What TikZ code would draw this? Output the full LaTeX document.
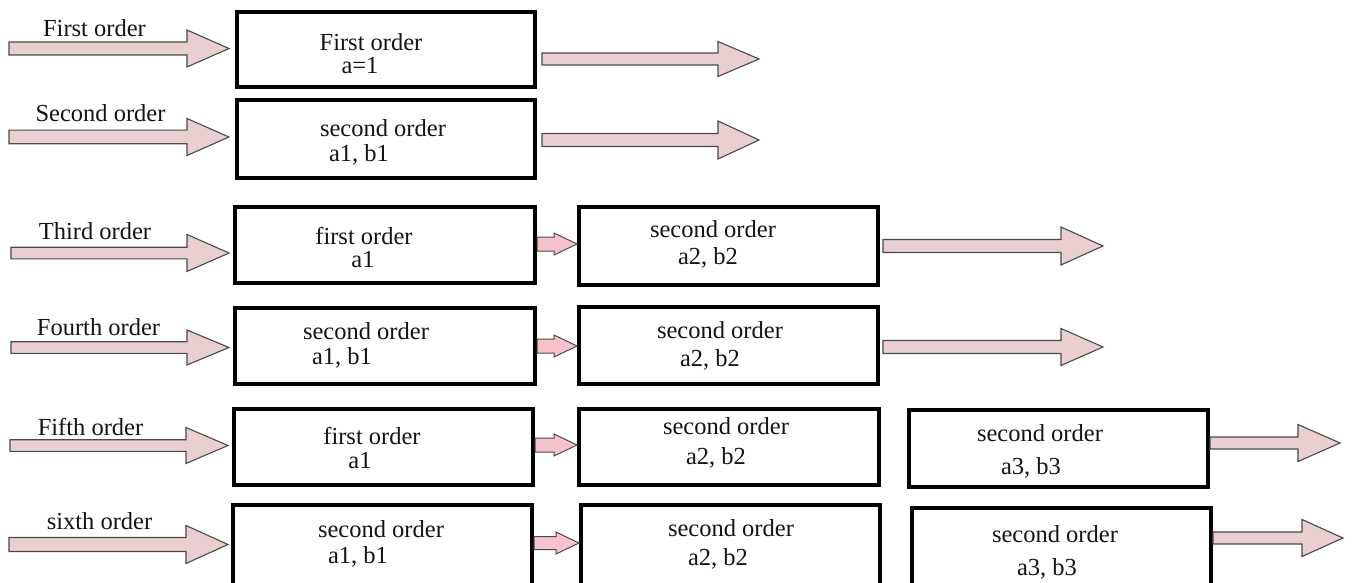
\documentclass[tikz,border=0pt]{standalone}
\usepackage{fontspec}
\setmainfont{Liberation Serif}
\usetikzlibrary{calc}
\definecolor{bigfill}{HTML}{E9CFCF}
\definecolor{smallfill}{HTML}{F6C2CB}
\definecolor{arrline}{HTML}{4A4A4A}
\definecolor{txtcol}{HTML}{141414}
\tikzset{
  box/.style={draw=black, line width=3.8pt, inner sep=0pt, fill=white},
  txt/.style={text=txtcol, inner sep=0pt, anchor=base, yshift=-2pt, font=\fontsize{24.5}{28}\selectfont},
  bigarrow/.style={draw=arrline, line width=1.1pt, fill=bigfill, line join=miter},
  smallarrow/.style={draw=arrline, line width=1pt, fill=smallfill, line join=miter}
}
% box by outer extents: name, x1, y1, x2, y2
\newcommand\bx[5]{\node[box, minimum width={(#4-#2-3.8)*1pt}, minimum height={(#5-#3-3.8)*1pt}] (#1) at ({(#2+#4)/2},{(#3+#5)/2}) {};}
% block arrow: style, from, to, shaft half, head half, head length (y of from)
\newcommand\barrow[6]{\draw[#1] let \p1=(#2), \p2=(#3) in
  (\x1,\y1+#4pt) -- (\x2-#6pt,\y1+#4pt) -- (\x2-#6pt,\y1+#5pt) -- (\x2,\y1)
  -- (\x2-#6pt,\y1-#5pt) -- (\x2-#6pt,\y1-#4pt) -- (\x1,\y1-#4pt) -- cycle;}
\begin{document}
\begin{tikzpicture}[x=1pt,y=-1pt]
\useasboundingbox (0,0) rectangle (1352,583);
\clip (0,0) rectangle (1352,583);
\fill[white] (0,0) rectangle (1352,583);

% ---------- boxes ----------
\bx{a1}{235}{10}{537}{89}
\bx{a2}{235}{98}{537}{180}
\bx{a3}{233}{205}{537}{285}
\bx{b3}{577}{205}{880}{287}
\bx{a4}{233}{306}{537}{386}
\bx{b4}{577}{305}{880}{386}
\bx{a5}{232}{407}{535}{487}
\bx{b5}{577}{407}{881}{487}
\bx{c5}{907}{408}{1210}{489}
\bx{a6}{231}{503}{534}{620}
\bx{b6}{579}{503}{882}{620}
\bx{c6}{910}{506}{1213}{620}

% ---------- texts in boxes ----------
\node[txt] (a1t) at (371,49) {First order};
\node[txt] (a1s) at (360,72) {a=1};
\node[txt] (a2t) at (383,135) {second order};
\node[txt] (a2s) at (359,159) {a1, b1};
\node[txt] (a3t) at (364,242) {first order};
\node[txt] (a3s) at (363,265) {a1};
\node[txt] (b3t) at (713,235) {second order};
\node[txt] (b3s) at (708,262) {a2, b2};
\node[txt] (a4t) at (366,337) {second order};
\node[txt] (a4s) at (342,362) {a1, b1};
\node[txt] (b4t) at (720,336) {second order};
\node[txt] (b4s) at (710,364) {a2, b2};
\node[txt] (a5t) at (372,442) {first order};
\node[txt] (a5s) at (360,466) {a1};
\node[txt] (b5t) at (726,432) {second order};
\node[txt] (b5s) at (716,462) {a2, b2};
\node[txt] (c5t) at (1040,439) {second order};
\node[txt] (c5s) at (1031,472) {a3, b3};
\node[txt] (a6t) at (381,535) {second order};
\node[txt] (a6s) at (358,561) {a1, b1};
\node[txt] (b6t) at (731,534) {second order};
\node[txt] (b6s) at (718,563) {a2, b2};
\node[txt] (c6t) at (1055,540) {second order};
\node[txt] (c6s) at (1047,573) {a3, b3};

% ---------- row labels ----------
\node[txt] (l1) at (94.5,35) {First order};
\node[txt] (l2) at (100.5,120) {Second order};
\node[txt] (l3) at (95,237) {Third order};
\node[txt] (l4) at (98.5,333) {Fourth order};
\node[txt] (l5) at (90.5,433) {Fifth order};
\node[txt] (l6) at (99.5,527) {sixth order};

% ---------- free ends ----------
\coordinate (i1) at (9,48.5);
\coordinate (i2) at (9,137);
\coordinate (i3) at (11,253);
\coordinate (i4) at (11,347.5);
\coordinate (i5) at (10,445.5);
\coordinate (i6) at (9,544.5);
\coordinate (o1) at (759,59);
\coordinate (o2) at (759,140);
\coordinate (o3) at (1103,246);
\coordinate (o4) at (1103,347);
\coordinate (o5) at (1340,443);
\coordinate (o6) at (1343,538);
\coordinate (s1) at ([xshift=5pt]a1.east);
\coordinate (s2) at ([xshift=5pt]a2.east);
\coordinate (s3) at ([xshift=3pt]b3.east);
\coordinate (s4) at ([xshift=3pt]b4.east);
\coordinate (s5) at (c5.east);
\coordinate (s6) at (c6.east);

% ---------- input arrows ----------
\barrow{bigarrow}{i1}{[xshift=-6pt]a1.west}{6.5}{18.5}{42}
\barrow{bigarrow}{i2}{[xshift=-6pt]a2.west}{6.8}{18.5}{42}
\barrow{bigarrow}{i3}{[xshift=-4pt]a3.west}{5.8}{18.5}{42}
\barrow{bigarrow}{i4}{[xshift=-4pt]a4.west}{5.8}{17.5}{42}
\barrow{bigarrow}{i5}{[xshift=-4pt]a5.west}{5.8}{18}{42}
\barrow{bigarrow}{i6}{[xshift=-3pt]a6.west}{7}{19}{42}

% ---------- output arrows ----------
\barrow{bigarrow}{s1 |- o1}{o1}{6}{17.5}{41}
\barrow{bigarrow}{s2 |- o2}{o2}{6.5}{19}{41}
\barrow{bigarrow}{s3 |- o3}{o3}{6.5}{19}{42}
\barrow{bigarrow}{s4 |- o4}{o4}{6.5}{18.5}{42}
\barrow{bigarrow}{s5 |- o5}{o5}{6}{18.5}{42}
\barrow{bigarrow}{s6 |- o6}{o6}{6}{18.5}{41}

% ---------- small arrows between boxes ----------
\barrow{smallarrow}{[yshift=1pt]a3.east}{b3.west}{7}{11}{23}
\barrow{smallarrow}{[yshift=0pt]a4.east}{b4.west}{7}{11}{23}
\barrow{smallarrow}{[yshift=2pt]a5.east}{b5.west}{7}{11}{23}
\coordinate (m6) at (a6.east |- 0,543);
\barrow{smallarrow}{m6}{b6.west}{6.5}{11}{23}
\end{tikzpicture}
\end{document}
